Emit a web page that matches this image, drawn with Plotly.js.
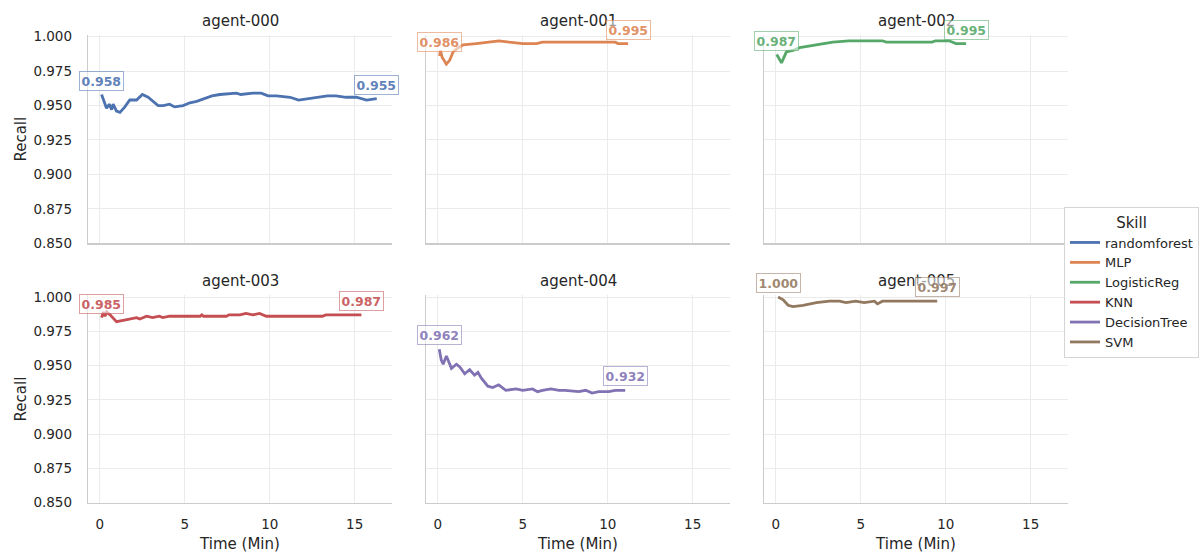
<!DOCTYPE html>
<html>
<head>
<meta charset="utf-8">
<script src="https://cdn.plot.ly/plotly-3.0.1.min.js"></script>
<style>
  html, body { margin: 0; padding: 0; background: #ffffff; }
  #chart { width: 1201px; height: 556px; }
</style>
</head>
<body>
<div id="chart"></div>
<script>
// Recall over time for each agent, one panel per agent
const agents = ["agent-000", "agent-001", "agent-002", "agent-003", "agent-004", "agent-005"];
const skills = ["randomforest", "MLP", "LogisticReg", "KNN", "DecisionTree", "SVM"];
const skillColors = ["#4c72b0", "#dd8452", "#55a868", "#c44e52", "#8172b3", "#937860"];

const time000 = [0.1, 0.39, 0.55, 0.69, 0.78, 0.98, 1.18, 1.47, 1.76, 2.16, 2.5, 2.84, 3.43, 3.73, 4.1, 4.4, 4.9, 5.3, 5.7, 6.3, 6.6, 7.06, 8.04, 8.3, 9.0, 9.5, 9.9, 10.4, 11.2, 11.7, 12.25, 12.7, 13.4, 13.9, 14.5, 15.1, 15.7, 16.3];
const recall000 = [0.958, 0.948, 0.951, 0.947, 0.951, 0.946, 0.945, 0.949, 0.954, 0.954, 0.958, 0.956, 0.950, 0.950, 0.951, 0.949, 0.950, 0.952, 0.953, 0.956, 0.957, 0.958, 0.959, 0.958, 0.959, 0.959, 0.957, 0.957, 0.956, 0.954, 0.955, 0.956, 0.957, 0.957, 0.956, 0.956, 0.954, 0.955];

const time001 = [0.1, 0.15, 0.25, 0.5, 0.7, 0.9, 1.2, 1.48, 2.26, 3.04, 3.6, 4.2, 5.0, 5.8, 6.16, 8.0, 10.45, 10.6, 11.2];
const recall001 = [0.986, 0.990, 0.985, 0.980, 0.983, 0.989, 0.992, 0.994, 0.995, 0.996, 0.997, 0.996, 0.995, 0.995, 0.996, 0.996, 0.996, 0.995, 0.995];

const time002 = [0.05, 0.33, 0.62, 1.0, 1.4, 2.38, 3.35, 4.3, 4.9, 6.27, 6.5, 9.2, 9.4, 10.2, 10.6, 11.2];
const recall002 = [0.987, 0.981, 0.989, 0.990, 0.992, 0.994, 0.996, 0.997, 0.997, 0.997, 0.996, 0.996, 0.997, 0.997, 0.995, 0.995];

const time003 = [0.1, 0.2, 0.3, 0.4, 0.6, 0.98, 1.37, 1.76, 2.16, 2.35, 2.75, 3.1, 3.5, 3.7, 4.1, 5.9, 6.0, 6.1, 7.45, 7.6, 8.24, 8.6, 9.0, 9.4, 9.8, 13.1, 13.3, 15.4];
const recall003 = [0.985, 0.989, 0.986, 0.989, 0.987, 0.982, 0.983, 0.984, 0.985, 0.984, 0.986, 0.985, 0.986, 0.985, 0.986, 0.986, 0.987, 0.986, 0.986, 0.987, 0.987, 0.988, 0.987, 0.988, 0.986, 0.986, 0.987, 0.987];

const time004 = [0.08, 0.2, 0.31, 0.5, 0.8, 1.09, 1.29, 1.58, 1.87, 2.16, 2.36, 2.55, 2.94, 3.23, 3.58, 4.0, 4.6, 5.0, 5.57, 5.87, 6.16, 6.65, 7.13, 7.5, 8.3, 8.7, 9.08, 9.47, 10.06, 10.45, 11.03];
const recall004 = [0.962, 0.954, 0.951, 0.957, 0.948, 0.951, 0.949, 0.944, 0.947, 0.943, 0.945, 0.941, 0.935, 0.934, 0.936, 0.932, 0.933, 0.932, 0.933, 0.931, 0.932, 0.933, 0.932, 0.932, 0.931, 0.932, 0.930, 0.931, 0.931, 0.932, 0.932];

const time005 = [0.13, 0.43, 0.72, 1.0, 1.6, 2.38, 3.16, 3.74, 4.13, 4.7, 5.2, 5.8, 5.98, 6.27, 6.86, 9.5];
const recall005 = [1.000, 0.998, 0.994, 0.993, 0.994, 0.996, 0.997, 0.997, 0.996, 0.997, 0.996, 0.997, 0.995, 0.997, 0.997, 0.997];

const yTicks = [0.85, 0.875, 0.9, 0.925, 0.95, 0.975, 1.0];
const xTicks = [0, 5, 10, 15];

const times = [time000, time001, time002, time003, time004, time005];
const recalls = [recall000, recall001, recall002, recall003, recall004, recall005];

const W = 1201, H = 556;
const FONT = "DejaVu Sans, sans-serif";
const TEXT = "#262626";

// panel geometry in pixels
const colLeft = [88, 426, 764];
const colWidth = 304;
const rowTop = [35, 295.4];
const rowBottom = [243.3, 502.7];

function hexA(hex, a) {
  const n = parseInt(hex.slice(1), 16);
  return `rgba(${(n >> 16) & 255},${(n >> 8) & 255},${n & 255},${a})`;
}

const traces = [];
const annotations = [];
const layout = {
  width: W, height: H,
  margin: {l: 0, r: 0, t: 0, b: 0},
  paper_bgcolor: "#ffffff",
  plot_bgcolor: "#ffffff",
  font: {family: FONT, color: TEXT, size: 13.5},
  showlegend: true,
  legend: {
    x: 1064 / W, y: 1 - 207 / H, xanchor: "left", yanchor: "top",
    bgcolor: "rgba(255,255,255,0.85)", bordercolor: "#d5d5d5", borderwidth: 1,
    font: {family: FONT, size: 13, color: TEXT},
    title: {text: "Skill", side: "top center", font: {family: FONT, size: 15, color: TEXT}},
    tracegroupgap: 0, itemwidth: 30
  },
  annotations: annotations
};

agents.forEach((name, i) => {
  const row = Math.floor(i / 3), col = i % 3;
  const sfx = i === 0 ? "" : String(i + 1);
  const xa = "xaxis" + sfx, ya = "yaxis" + sfx;
  const xr = "x" + sfx, yr = "y" + sfx;
  const x0 = colLeft[col] / W, x1 = (colLeft[col] + colWidth) / W;
  const y0 = 1 - rowBottom[row] / H, y1 = 1 - rowTop[row] / H;

  layout[xa] = {
    domain: [x0, x1], anchor: yr, range: [-0.7, 17.2],
    tickvals: xTicks, ticks: "", showticklabels: row === 1,
    ticklabelstandoff: 9,
    showgrid: true, gridcolor: "#ebebeb", gridwidth: 1,
    zeroline: false, showline: true, linecolor: "#cccccc", linewidth: 1.25,
    tickfont: {family: FONT, size: 13.5, color: TEXT},
    title: row === 1 ? {text: "Time (Min)", standoff: 7, font: {family: FONT, size: 15, color: TEXT}} : {text: ""}
  };
  layout[ya] = {
    domain: [y0, y1], anchor: xr, range: [0.85, 1.0012],
    tickvals: yTicks, tickformat: ".3f", ticks: "", showticklabels: col === 0,
    ticklabelstandoff: 12,
    showgrid: true, gridcolor: "#ebebeb", gridwidth: 1,
    zeroline: false, showline: true, linecolor: "#cccccc", linewidth: 1.25,
    tickfont: {family: FONT, size: 13.5, color: TEXT},
    title: col === 0 ? {text: "Recall", standoff: 3, font: {family: FONT, size: 15, color: TEXT}} : {text: ""}
  };

  const t = times[i], r = recalls[i], c = skillColors[i];
  traces.push({
    type: "scatter", mode: "lines", name: skills[i],
    x: t, y: r, xaxis: xr, yaxis: yr,
    line: {color: c, width: 2.8},
    hoverinfo: "skip"
  });

  // panel title
  annotations.push({
    xref: "paper", yref: "paper", x: (x0 + x1) / 2, y: y1,
    xanchor: "center", yanchor: "bottom", yshift: 3, showarrow: false,
    text: name, font: {family: FONT, size: 15, color: TEXT}
  });

  // first and last value labels
  [0, t.length - 1].forEach(k => {
    annotations.push({
      xref: xr, yref: yr, x: t[k], y: r[k],
      xanchor: "center", yanchor: "bottom", yshift: 4, showarrow: false,
      text: "<b>" + r[k].toFixed(3) + "</b>",
      font: {family: FONT, size: 12.5, color: hexA(c, 0.9)},
      bgcolor: "rgba(255,255,255,0.55)", bordercolor: hexA(c, 0.55),
      borderwidth: 1, borderpad: 1.5
    });
  });
});

Plotly.newPlot("chart", traces, layout, {displayModeBar: false, staticPlot: true});
</script>
</body>
</html>
